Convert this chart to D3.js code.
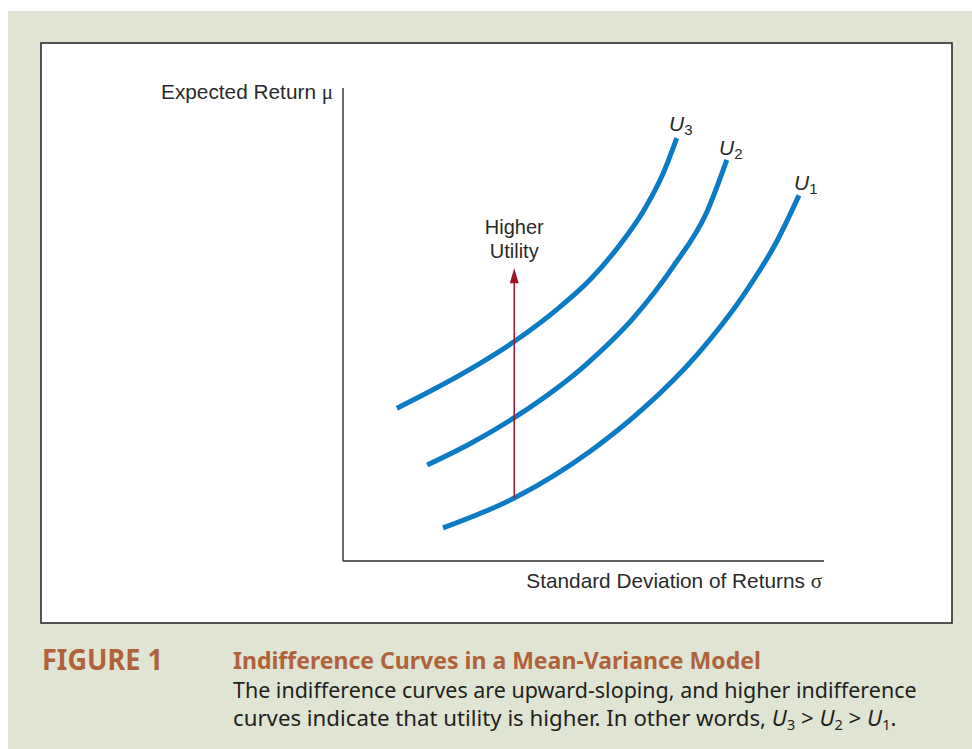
<!DOCTYPE html>
<html><head><meta charset="utf-8">
<script src="https://cdn.jsdelivr.net/npm/d3@7"></script>
<style>html,body{margin:0;padding:0;background:#fff;}svg{display:block;}</style>
</head><body>
<script>
// Data (abstract units: sigma 0..10, mu 0..10)
const curveNames = ["U3", "U2", "U1"];
const u3 = [[1.12,3.23],[1.66,3.51],[2.70,4.09],[3.56,4.64],[4.45,5.32],[5.14,5.95],[5.82,6.77],[6.24,7.39],[6.65,8.18],[6.94,8.94]];
const u2 = [[1.75,2.03],[2.64,2.48],[3.56,3.03],[5.07,4.17],[6.03,5.13],[6.86,6.22],[7.57,7.39],[7.98,8.48]];
const u1 = [[2.08,0.70],[3.56,1.33],[5.14,2.32],[6.24,3.22],[7.36,4.36],[8.32,5.61],[9.02,6.76],[9.48,7.73]];
const arrowSigma = 3.56, arrowFrom = 1.33, arrowTo = 6.19;
const yAxisTitle = "Expected Return ", yAxisSymbol = "μ";
const xAxisTitle = "Standard Deviation of Returns ", xAxisSymbol = "σ";
const arrowLabel = ["Higher", "Utility"];
const figLabel = "FIGURE 1";
const figTitle = "Indifference Curves in a Mean-Variance Model";
const figLine1 = "The indifference curves are upward-sloping, and higher indifference";
const figLine2 = "curves indicate that utility is higher. In other words, ";

const W = 972, H = 749;
const svg = d3.select("body").append("svg").attr("width", W).attr("height", H);

svg.append("rect").attr("x", 8).attr("y", 11).attr("width", W - 8).attr("height", H - 11).attr("fill", "#dfe4d3");
svg.append("rect").attr("x", 41).attr("y", 43).attr("width", 911).attr("height", 580)
  .attr("fill", "#fff").attr("stroke", "#2b2b2b").attr("stroke-width", 1.6);

const x = d3.scaleLinear().domain([0, 10]).range([343, 824]);
const y = d3.scaleLinear().domain([0, 10]).range([561, 88]);

const ink = "#2a2a2a";
const sans = "Liberation Sans, Arial, sans-serif";
const serif = "Liberation Serif, Times New Roman, serif";
svg.append("line").attr("x1", x(0)).attr("x2", x(0)).attr("y1", y(0)).attr("y2", y(10)).attr("stroke", ink).attr("stroke-width", 1.4);
svg.append("line").attr("x1", x(0)).attr("x2", x(10)).attr("y1", y(0)).attr("y2", y(0)).attr("stroke", ink).attr("stroke-width", 1.4);

svg.append("text").attr("x", 333).attr("y", 99).attr("text-anchor", "end").attr("font-family", sans).attr("font-size", 20.8).attr("fill", ink)
  .text(yAxisTitle).append("tspan").attr("font-family", serif).attr("font-size", 21).text(yAxisSymbol);
svg.append("text").attr("x", 822).attr("y", 588).attr("text-anchor", "end").attr("font-family", sans).attr("font-size", 20.8).attr("fill", ink)
  .text(xAxisTitle).append("tspan").attr("font-family", serif).attr("font-size", 21).text(xAxisSymbol);

const line = d3.line().x(d => x(d[0])).y(d => y(d[1])).curve(d3.curveMonotoneX);
[u3, u2, u1].forEach(pts => {
  svg.append("path").attr("d", line(pts)).attr("fill", "none").attr("stroke", "#0a7bc4").attr("stroke-width", 5);
});

const labelPos = [[669, 131], [719, 155], [794, 190]];
curveNames.forEach((n, i) => {
  const t = svg.append("text").attr("x", labelPos[i][0]).attr("y", labelPos[i][1])
    .attr("font-family", sans).attr("font-size", 21).attr("fill", ink);
  t.append("tspan").attr("font-style", "italic").text(n[0]);
  t.append("tspan").attr("font-size", 15).attr("dy", 4).text(n.slice(1));
});

const ax = x(arrowSigma);
svg.append("line").attr("x1", ax).attr("x2", ax).attr("y1", y(arrowFrom)).attr("y2", y(arrowTo) + 10)
  .attr("stroke", "#a8202e").attr("stroke-width", 1.6);
svg.append("path").attr("d", `M${ax},${y(arrowTo)} L${ax - 4.5},${y(arrowTo) + 15} L${ax + 4.5},${y(arrowTo) + 15} Z`).attr("fill", "#9e1622");
arrowLabel.forEach((s, i) => {
  svg.append("text").attr("x", ax).attr("y", 234 + i * 24).attr("text-anchor", "middle").attr("font-family", sans).attr("font-size", 20).attr("fill", ink).text(s);
});

// caption, fitted to widths with a horizontal squeeze
const brown = "#b0623a";
const cf = "Noto Sans, Open Sans, sans-serif";
function fitted(x0, yb, width, size, weight, color) {
  const g = svg.append("g");
  const t = g.append("text").attr("x", 0).attr("y", 0).attr("font-family", cf).attr("font-size", size)
    .attr("font-weight", weight).attr("fill", color);
  return { g, t, fit() { const w = t.node().getBBox().width; g.attr("transform", `translate(${x0},${yb}) scale(${width / w},1)`); } };
}
const a = fitted(42, 670, 121, 28, "bold", brown); a.t.text(figLabel); a.fit();
const b = fitted(233, 669, 528, 24, "bold", brown); b.t.text(figTitle); b.fit();
const c = fitted(233, 698, 684, 21.5, "normal", "#231f20"); c.t.text(figLine1); c.fit();
const d = fitted(233, 726, 664, 21.5, "normal", "#231f20");
d.t.append("tspan").text(figLine2);
[["3", " > "], ["2", " > "], ["1", "."]].forEach(([s, after]) => {
  d.t.append("tspan").attr("font-style", "italic").text("U");
  d.t.append("tspan").attr("font-size", 14).attr("dy", 4).text(s);
  d.t.append("tspan").attr("dy", -4).text(after);
});
d.fit();
</script>
</body></html>
